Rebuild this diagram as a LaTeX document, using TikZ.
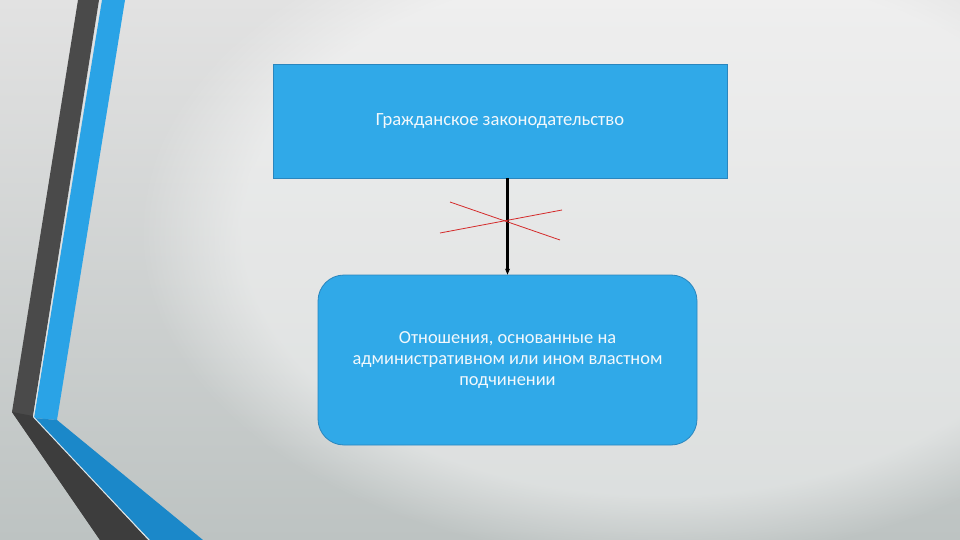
\documentclass[tikz,border=0pt]{standalone}
\usepackage{fontspec}
\setmainfont{Carlito}
\usetikzlibrary{arrows.meta,fadings}
\definecolor{boxblue}{HTML}{30A9E8}
\definecolor{boxedge}{HTML}{2A86BE}
\definecolor{bandblue}{HTML}{2AA3E6}
\definecolor{bandblue2}{HTML}{1B88C9}
\definecolor{banddark}{HTML}{4A4A4A}
\definecolor{banddark2}{HTML}{3D3D3D}
\definecolor{gapline}{HTML}{DDE6EA}
\definecolor{bgtop}{HTML}{E2E2E2}
\definecolor{bgbot}{HTML}{BDC3C2}
\definecolor{crossred}{HTML}{D42A2A}
\definecolor{boxtext}{HTML}{F2F8FC}
\tikzset{
  lawbox/.style={draw=boxedge, line width=0.8pt, fill=boxblue, minimum width=454pt, minimum height=114pt, inner sep=0pt, text=boxtext, font=\fontsize{18.6}{21}\selectfont},
  relbox/.style={draw=boxedge, line width=0.8pt, fill=boxblue, rounded corners=26pt, minimum width=379pt, minimum height=170pt, inner sep=0pt, text=boxtext, align=center, font=\fontsize{18.4}{21}\selectfont},
  link/.style={black, line width=2.2pt, -{Stealth[length=6pt,width=5pt]}},
  crossline/.style={crossred, line width=0.8pt}
}
\begin{document}
\begin{tikzpicture}[x=1pt,y=-1pt]
\useasboundingbox (0,0) rectangle (960,540);
% background
\fill[top color=bgtop, bottom color=bgbot] (0,0) rectangle (960,540);
\fill[white, opacity=0.45, path fading=circle with fuzzy edge 20 percent] (660,230) ellipse (520 and 330);
% decorative bands
\fill[banddark] (78,0) -- (99,0) -- (33,416) -- (148,540) -- (100,540) -- (12,412) -- cycle;
\fill[banddark2] (12,412) -- (33,416) -- (148,540) -- (100,540) -- cycle;
\fill[bandblue] (102,0) -- (125,0) -- (57,420) -- (34,418) -- cycle;
\fill[bandblue2] (34,418) -- (57,420) -- (203,540) -- (150,540) -- cycle;
\draw[gapline, line width=1pt] (100.5,0) -- (33.5,417) -- (149,540);
% boxes
\node[lawbox] (law) at (500,121) {Гражданское законодательство};
\node[relbox] (rel) at (507.5,360) {\raisebox{-3pt}{\parbox{379pt}{\centering Отношения, основанные на\\административном или ином властном\\подчинении}}};
% connector
\draw[link] (law.south -| rel.north) -- (rel.north);
% red cross
\coordinate (c1a) at (450,202);
\coordinate (c1b) at (560,240);
\coordinate (c2a) at (440,233);
\coordinate (c2b) at (562,210);
\draw[crossline] (c1a) -- (c1b);
\draw[crossline] (c2a) -- (c2b);
\end{tikzpicture}
\end{document}
